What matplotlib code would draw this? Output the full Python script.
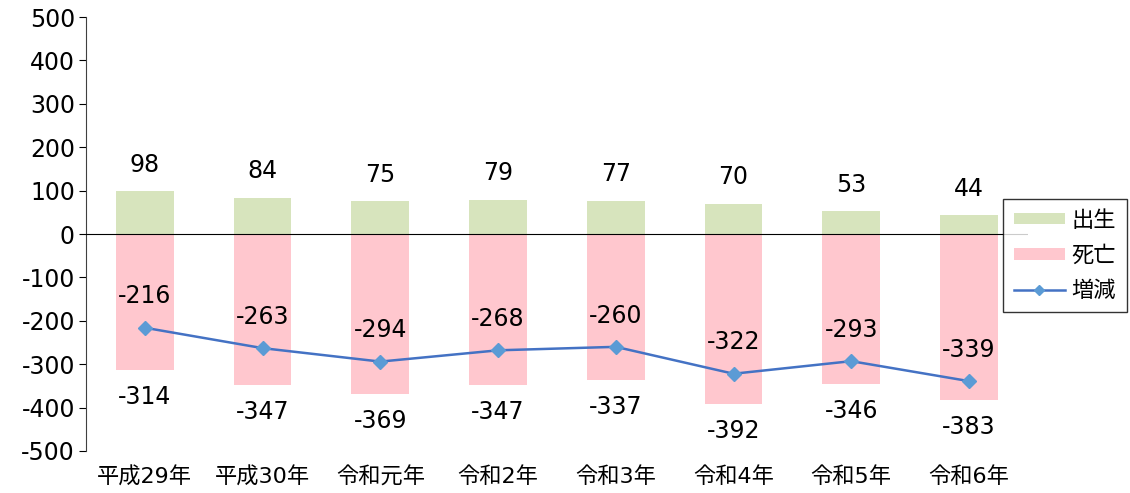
import matplotlib
matplotlib.use("Agg")
import matplotlib.pyplot as plt
from matplotlib.patches import Patch
from matplotlib.lines import Line2D

plt.rcParams['font.family'] = ['DejaVu Sans', 'Noto Sans CJK JP']
plt.rcParams['axes.unicode_minus'] = False

# データ
years = ["平成29年", "平成30年", "令和元年", "令和2年", "令和3年", "令和4年", "令和5年", "令和6年"]
births = [98, 84, 75, 79, 77, 70, 53, 44]
deaths = [-314, -347, -369, -347, -337, -392, -346, -383]
change = [-216, -263, -294, -268, -260, -322, -293, -339]

green = "#D7E4BD"
pink = "#FFC7CE"
line_c = "#4472C4"
marker_c = "#5B9BD5"

fig = plt.figure(figsize=(11.3, 4.93), dpi=100)
ax = fig.add_axes([0.0761, 0.0852, 0.8335, 0.8803])

x = list(range(len(years)))
ax.bar(x, births, width=0.49, color=green, zorder=2)
ax.bar(x, deaths, width=0.49, color=pink, zorder=2)
ax.axhline(0, color="black", linewidth=0.8, zorder=3)
ax.plot(x, change, color=line_c, linewidth=1.8, marker="D", markersize=7,
        markerfacecolor=marker_c, markeredgecolor=marker_c, zorder=4)

# ラベル
for i in x:
    ax.annotate(str(births[i]), (i, births[i]), xytext=(0, 19), textcoords="offset points",
                ha="center", va="center", fontsize=17)
    ax.annotate(str(deaths[i]), (i, deaths[i]), xytext=(0, -19.5), textcoords="offset points",
                ha="center", va="center", fontsize=17)
    ax.annotate(str(change[i]), (i, change[i]), xytext=(0, 22.5), textcoords="offset points",
                ha="center", va="center", fontsize=17)

ax.set_xlim(-0.5, len(years) - 0.5)
ax.set_ylim(-500, 500)
ax.set_yticks(range(-500, 501, 100))
ax.tick_params(axis="y", labelsize=17, length=5, direction="out", pad=3)
ax.set_xticks(x)
ax.set_xticklabels(years, fontsize=16)
ax.tick_params(axis="x", length=0, pad=11)

for s in ["top", "right", "bottom"]:
    ax.spines[s].set_visible(False)
ax.spines["left"].set_color("#404040")

handles = [
    Patch(facecolor=green, edgecolor="none"),
    Patch(facecolor=pink, edgecolor="none"),
    Line2D([], [], color=line_c, linewidth=1.8, marker="D", markersize=5,
           markerfacecolor=marker_c, markeredgecolor=marker_c),
]
leg = fig.legend(handles, ["出生", "死亡", "増減"], loc="upper right",
                 bbox_to_anchor=(1127 / 1130, 1 - 199 / 493), fontsize=16,
                 frameon=True, fancybox=False, edgecolor="black", borderaxespad=0,
                 handlelength=2.3, handleheight=0.4, handletextpad=0.3,
                 borderpad=0.5, labelspacing=0.65)
leg.get_frame().set_linewidth(1.0)

fig.savefig("out.png", dpi=100)
